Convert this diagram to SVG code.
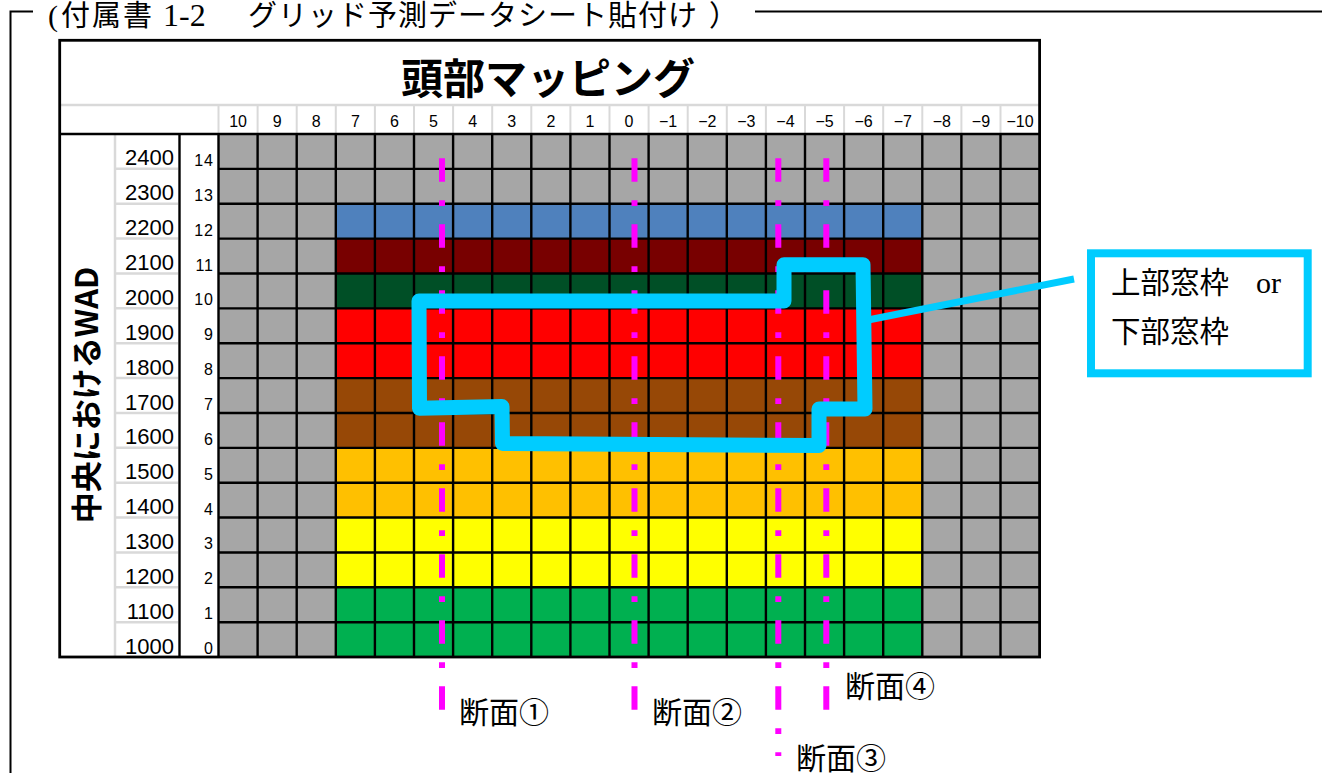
<svg xmlns="http://www.w3.org/2000/svg" width="1322" height="773" viewBox="0 0 1322 773">
<style>
.jp{font-family:'Noto Sans CJK JP',sans-serif;fill:#000}
.num{font-family:'Liberation Sans','Noto Sans CJK JP',sans-serif;fill:#000}
.hdr{font-size:16px;text-anchor:middle}
.wad{font-size:22px;text-anchor:end}
.idx{font-size:16px;text-anchor:end;letter-spacing:1px}
.sec{font-size:30px}
.mag{stroke:#FF00FF;stroke-width:6;stroke-dasharray:23.5 18.5 5.7 18.3;fill:none}
.cyan{stroke:#00CCFF;fill:none}
</style>
<rect width="1322" height="773" fill="#fff"/>
<g id="frame">
<path d="M33,11.5 H10.5 V773" stroke="#000" stroke-width="2" fill="none"/>
<path d="M755,11.5 H1322" stroke="#000" stroke-width="2" fill="none"/>
<text class="jp" y="26" font-size="29"><tspan x="48" font-family="Liberation Serif" font-size="30">(</tspan><tspan x="61" dx="0" letter-spacing="2">付属書</tspan><tspan x="163" font-family="Liberation Serif" font-size="32">1-2</tspan><tspan x="248" letter-spacing="1">グリッド予測データシート貼付け</tspan><tspan x="709">）</tspan></text>
</g>
<g id="table">
<rect x="59.7" y="40.3" width="979.9" height="616.7" fill="#fff" stroke="none"/>
<text class="jp" x="548" y="94" font-size="42" font-weight="bold" text-anchor="middle">頭部マッピング</text>
<path d="M59.7,105 H1039.6" stroke="#D9D9D9" stroke-width="2.5"/>
<path d="M218.5,105V133 M257.6,105V133 M296.7,105V133 M335.8,105V133 M374.9,105V133 M414,105V133 M453.1,105V133 M492.2,105V133 M531.3,105V133 M570.4,105V133 M609.5,105V133 M648.6,105V133 M687.7,105V133 M726.8,105V133 M765.9,105V133 M805,105V133 M844.1,105V133 M883.2,105V133 M922.3,105V133 M961.4,105V133 M1000.5,105V133" stroke="#D9D9D9" stroke-width="2"/>
<g class="num hdr">
<text x="238.05" y="127">10</text><text x="277.15" y="127">9</text><text x="316.25" y="127">8</text><text x="355.35" y="127">7</text><text x="394.45" y="127">6</text><text x="433.55" y="127">5</text><text x="472.65" y="127">4</text><text x="511.75" y="127">3</text><text x="550.85" y="127">2</text><text x="589.95" y="127">1</text><text x="629.05" y="127">0</text><text x="668.15" y="127">−1</text><text x="707.25" y="127">−2</text><text x="746.35" y="127">−3</text><text x="785.45" y="127">−4</text><text x="824.55" y="127">−5</text><text x="863.65" y="127">−6</text><text x="902.75" y="127">−7</text><text x="941.85" y="127">−8</text><text x="980.95" y="127">−9</text><text x="1020.05" y="127">−10</text>
</g>
<path d="M115,134 V657" stroke="#D9D9D9" stroke-width="2.5"/>
<path d="M115,168.87H178 M115,203.74H178 M115,238.61H178 M115,273.48H178 M115,308.35H178 M115,343.22H178 M115,378.09H178 M115,412.96H178 M115,447.83H178 M115,482.7H178 M115,517.57H178 M115,552.44H178 M115,587.31H178 M115,622.18H178" stroke="#D9D9D9" stroke-width="2.5"/>
<path d="M179.5,134 V657" stroke="#000" stroke-width="2.4"/>
<g class="num wad">
<text x="174" y="165.4">2400</text><text x="174" y="200.2">2300</text><text x="174" y="235.1">2200</text><text x="174" y="270">2100</text><text x="174" y="304.9">2000</text><text x="174" y="339.7">1900</text><text x="174" y="374.6">1800</text><text x="174" y="409.5">1700</text><text x="174" y="444.3">1600</text><text x="174" y="479.2">1500</text><text x="174" y="514.1">1400</text><text x="174" y="548.9">1300</text><text x="174" y="583.8">1200</text><text x="174" y="618.7">1100</text><text x="174" y="653.5">1000</text>
</g>
<g class="num idx">
<text x="214" y="165.9">14</text><text x="214" y="200.7">13</text><text x="214" y="235.6">12</text><text x="214" y="270.5">11</text><text x="214" y="305.4">10</text><text x="214" y="340.2">9</text><text x="214" y="375.1">8</text><text x="214" y="410">7</text><text x="214" y="444.8">6</text><text x="214" y="479.7">5</text><text x="214" y="514.6">4</text><text x="214" y="549.4">3</text><text x="214" y="584.3">2</text><text x="214" y="619.2">1</text><text x="214" y="654">0</text>
</g>
<text class="jp" transform="translate(84,395) rotate(-90)" font-size="31" font-weight="bold" text-anchor="middle" dominant-baseline="central">中央におけるWAD</text>
</g>
<g id="grid">
<rect x="218.5" y="134" width="821.1" height="523.05" fill="#A6A6A6"/>
<rect x="335.8" y="203.74" width="586.5" height="34.87" fill="#4F81BD"/>
<rect x="335.8" y="238.61" width="586.5" height="34.87" fill="#780000"/>
<rect x="335.8" y="273.48" width="586.5" height="34.87" fill="#004F26"/>
<rect x="335.8" y="308.35" width="586.5" height="69.74" fill="#FF0000"/>
<rect x="335.8" y="378.09" width="586.5" height="69.74" fill="#974806"/>
<rect x="335.8" y="447.83" width="586.5" height="69.74" fill="#FFC000"/>
<rect x="335.8" y="517.57" width="586.5" height="69.74" fill="#FFFF00"/>
<rect x="335.8" y="587.31" width="586.5" height="69.74" fill="#00B050"/>
<path d="M218.5,134V657 M257.6,134V657 M296.7,134V657 M335.8,134V657 M374.9,134V657 M414,134V657 M453.1,134V657 M492.2,134V657 M531.3,134V657 M570.4,134V657 M609.5,134V657 M648.6,134V657 M687.7,134V657 M726.8,134V657 M765.9,134V657 M805,134V657 M844.1,134V657 M883.2,134V657 M922.3,134V657 M961.4,134V657 M1000.5,134V657 M218.5,168.87H1039.6 M218.5,203.74H1039.6 M218.5,238.61H1039.6 M218.5,273.48H1039.6 M218.5,308.35H1039.6 M218.5,343.22H1039.6 M218.5,378.09H1039.6 M218.5,412.96H1039.6 M218.5,447.83H1039.6 M218.5,482.7H1039.6 M218.5,517.57H1039.6 M218.5,552.44H1039.6 M218.5,587.31H1039.6 M218.5,622.18H1039.6" stroke="#000" stroke-width="2.4" fill="none"/>
<path d="M59.7,134H1039.6" stroke="#000" stroke-width="2.6"/>
<rect x="59.7" y="40.3" width="979.9" height="616.7" fill="none" stroke="#000" stroke-width="2.8"/>
</g>
<g id="connectors">
<line class="mag" x1="442" y1="158.3" x2="442" y2="710"/>
<line class="mag" x1="634.5" y1="158.3" x2="634.5" y2="710"/>
<line class="mag" x1="778.3" y1="158.3" x2="778.3" y2="756"/>
<line class="mag" x1="826.3" y1="158.3" x2="826.3" y2="710"/>
<path class="cyan" d="M419,301 L784,301 L784,264.7 L863,264.7 L865,409 L819,409 L819,445.5 L502.5,443.5 L502,406.5 L419.5,408.3 Z" stroke-width="15" stroke-linejoin="round"/>
<line class="cyan" x1="868" y1="320" x2="1074" y2="279" stroke-width="7"/>
</g>
<g id="callout">
<rect x="1091" y="253.3" width="216.7" height="120" fill="#fff" stroke="#00CCFF" stroke-width="8"/>
<text class="jp" y="293" font-size="29.5"><tspan x="1111">上部窓枠</tspan><tspan x="1256" font-family="Liberation Serif" font-size="30">or</tspan></text>
<text class="jp" x="1111" y="341.5" font-size="29.5">下部窓枠</text>
</g>
<g id="section1"><text class="jp sec" x="459" y="723">断面①</text></g>
<g id="section2"><text class="jp sec" x="652" y="723">断面②</text></g>
<g id="section3"><text class="jp sec" x="796" y="769">断面③</text></g>
<g id="section4"><text class="jp sec" x="845" y="697">断面④</text></g>
</svg>
